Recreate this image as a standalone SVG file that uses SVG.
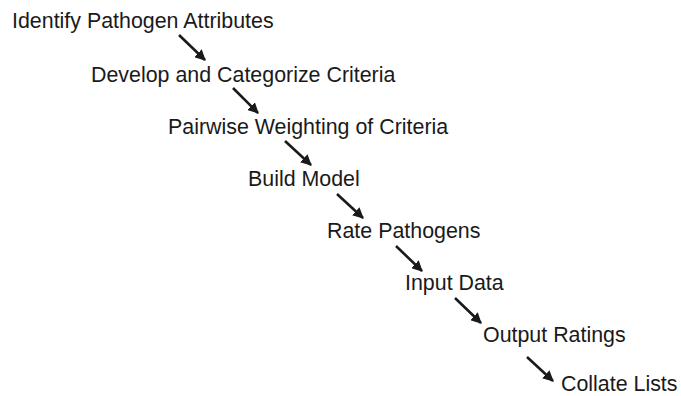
<svg xmlns="http://www.w3.org/2000/svg" width="681" height="396" viewBox="0 0 681 396">
<style>
text{font-family:"Liberation Sans",Arial,sans-serif;font-size:21.4px;fill:#1a1a1a}
.c line{stroke:#1a1a1a;stroke-width:2.6;marker-end:url(#ah)}
</style>
<defs>
<marker id="ah" viewBox="0 0 10 10" refX="9" refY="5" markerWidth="4.2" markerHeight="4.2" orient="auto" markerUnits="strokeWidth">
<path d="M0,0 L10,5 L0,10 Z" fill="#1a1a1a"/>
</marker>
</defs>
<rect width="681" height="396" fill="#fff"/>
<g id="n1"><text x="12" y="28">Identify Pathogen Attributes</text></g>
<g id="n2"><text x="91" y="82">Develop and Categorize Criteria</text></g>
<g id="n3"><text x="168" y="134">Pairwise Weighting of Criteria</text></g>
<g id="n4"><text x="248" y="186">Build Model</text></g>
<g id="n5"><text x="327" y="238">Rate Pathogens</text></g>
<g id="n6"><text x="405" y="290">Input Data</text></g>
<g id="n7"><text x="483" y="342">Output Ratings</text></g>
<g id="n8"><text x="561" y="391">Collate Lists</text></g>
<g class="c" id="connectors">
<line x1="179" y1="35" x2="205" y2="60"/>
<line x1="233" y1="88" x2="258" y2="113"/>
<line x1="285" y1="141" x2="311" y2="165"/>
<line x1="337" y1="194" x2="363" y2="218"/>
<line x1="396" y1="246" x2="422" y2="271"/>
<line x1="455" y1="298" x2="481" y2="323"/>
<line x1="527" y1="357" x2="553" y2="381"/>
</g>
</svg>
